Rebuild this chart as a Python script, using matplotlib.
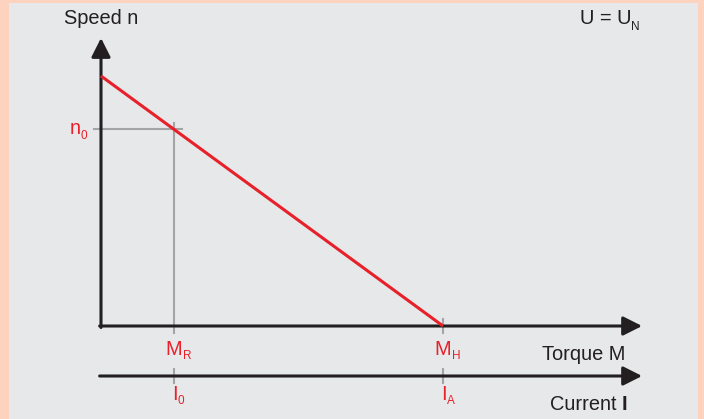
import matplotlib
matplotlib.use("Agg")
import matplotlib.pyplot as plt
from matplotlib.patches import Rectangle

# ---- data (normalised units) ----
torque_stall = 1.0      # M_H  (n = 0)
speed_noload = 1.0      # n at M = 0
torque_rated = 0.213    # M_R
speed_rated = 0.787     # n_0
current_axis_level = -0.2
axis_x_end = 1.582
axis_y_end = 1.152

speed_line_M = [0.0, torque_stall]
speed_line_n = [speed_noload, 0.0]

BG = "#e6e8ea"
BORDER = "#fdd3c0"
RED = "#e8202a"
GRAY = "#a3a4a6"
BLACK = "#231f20"
FONT = "Liberation Sans"
FS = 14.4
SUB = 8.5

fig = plt.figure(figsize=(7.04, 4.19), dpi=100)
fig.patch.set_facecolor(BORDER)
ax = fig.add_axes([9 / 704, 0, (698 - 9) / 704, (419 - 3) / 419])
ax.set_facecolor(BG)
ax.set_xlim(-0.269, 1.7456)
ax.set_ylim(-0.372, 1.292)
ax.axis("off")
ax.add_patch(Rectangle((0, 0), 1, 1, transform=ax.transAxes, facecolor=BG,
                       edgecolor="none", zorder=0))

arrow = dict(arrowstyle="-|>,head_length=11.5,head_width=5.8", color=BLACK,
             lw=2.2, mutation_scale=1, shrinkA=0, shrinkB=0)
# axes
ax.annotate("", xy=(0, axis_y_end), xytext=(0, -0.006), arrowprops=arrow, zorder=3)
ax.annotate("", xy=(axis_x_end, 0), xytext=(-0.004, 0), arrowprops=arrow, zorder=3)
ax.annotate("", xy=(axis_x_end, current_axis_level), xytext=(-0.004, current_axis_level),
            arrowprops=arrow, zorder=3)

# gray helper lines
ax.plot([-0.02, torque_rated + 0.023], [speed_rated, speed_rated], color=GRAY, lw=1.5, zorder=2)
ax.plot([torque_rated, torque_rated], [speed_rated + 0.024, -0.028], color=GRAY, lw=1.5, zorder=2)
ax.plot([torque_stall, torque_stall], [0.03, -0.028], color=GRAY, lw=1.5, zorder=2)
for m in (torque_rated, torque_stall):
    ax.plot([m, m], [current_axis_level + 0.028, current_axis_level - 0.028],
            color=GRAY, lw=1.5, zorder=2)

# speed line
ax.plot(speed_line_M, speed_line_n, color=RED, lw=2.2, zorder=4, solid_capstyle="butt")

# texts
ax.text(0.0, 1.228, "Speed n", color=BLACK, fontsize=FS, family=FONT, ha="center", va="center")
ax.text(1.400, 1.228, "U = U", color=BLACK, fontsize=FS, family=FONT, ha="left", va="center")
ax.text(1.550, 1.196, "N", color=BLACK, fontsize=SUB, family=FONT, ha="left", va="center")

ax.text(-0.092, speed_rated + 0.002, "n", color=RED, fontsize=FS, family=FONT, ha="left", va="center")
ax.text(-0.061, speed_rated - 0.026, "0", color=RED, fontsize=SUB, family=FONT, ha="left", va="center")

ax.text(torque_rated - 0.025, -0.092, "M", color=RED, fontsize=FS, family=FONT, ha="left", va="center")
ax.text(torque_rated + 0.026, -0.120, "R", color=RED, fontsize=SUB, family=FONT, ha="left", va="center")
ax.text(torque_stall - 0.025, -0.092, "M", color=RED, fontsize=FS, family=FONT, ha="left", va="center")
ax.text(torque_stall + 0.026, -0.120, "H", color=RED, fontsize=SUB, family=FONT, ha="left", va="center")

ax.text(torque_rated - 0.006, -0.272, "I", color=RED, fontsize=FS, family=FONT, ha="left", va="center")
ax.text(torque_rated + 0.011, -0.300, "0", color=RED, fontsize=SUB, family=FONT, ha="left", va="center")
ax.text(torque_stall - 0.006, -0.272, "I", color=RED, fontsize=FS, family=FONT, ha="left", va="center")
ax.text(torque_stall + 0.011, -0.300, "A", color=RED, fontsize=SUB, family=FONT, ha="left", va="center")

ax.text(1.534, -0.112, "Torque M", color=BLACK, fontsize=FS, family=FONT, ha="right", va="center")
ax.text(1.522, -0.312, "Current ", color=BLACK, fontsize=FS, family=FONT, ha="right", va="center")
ax.text(1.522, -0.312, "I", color=BLACK, fontsize=FS, family=FONT, ha="left", va="center",
        fontweight="bold")

fig.savefig("out.png", dpi=100, facecolor=BORDER)
